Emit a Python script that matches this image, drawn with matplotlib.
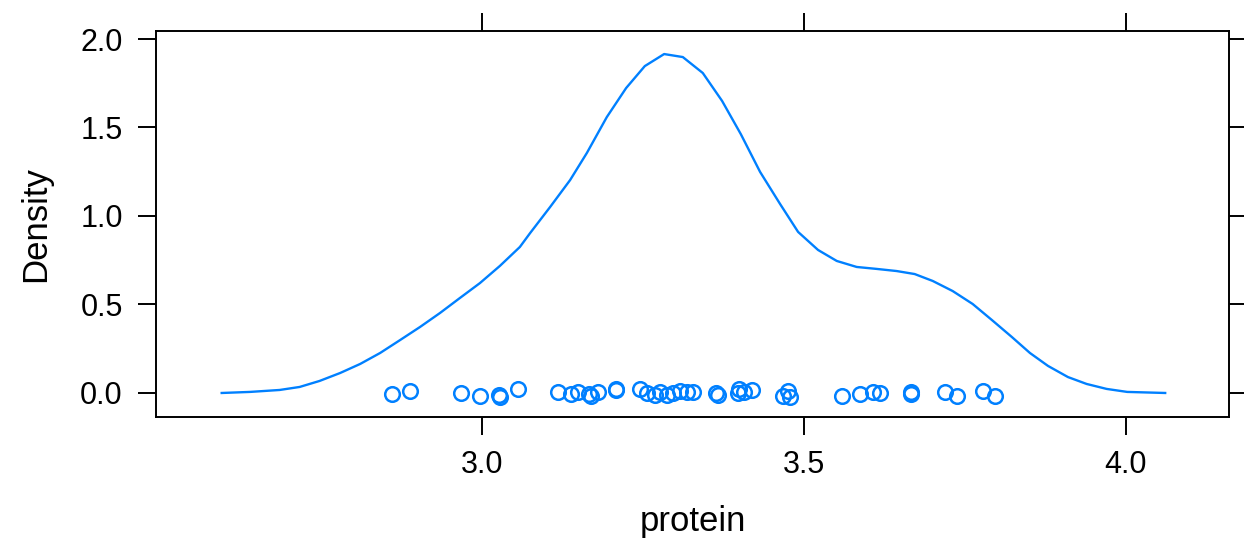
import numpy as np
import matplotlib
matplotlib.use("Agg")
import matplotlib.pyplot as plt

plt.rcParams['font.family'] = ['Liberation Sans', 'DejaVu Sans']

# density curve
dens_x = [2.596, 2.640, 2.686, 2.717, 2.748, 2.780, 2.811, 2.842, 2.873, 2.904,
          2.935, 2.966, 2.997, 3.028, 3.059, 3.075, 3.106, 3.137, 3.163, 3.194,
          3.224, 3.253, 3.283, 3.312, 3.343, 3.373, 3.402, 3.432, 3.463, 3.491,
          3.522, 3.551, 3.582, 3.613, 3.644, 3.672, 3.700, 3.731, 3.762, 3.792,
          3.823, 3.851, 3.879, 3.910, 3.939, 3.970, 4.002, 4.061]
dens_y = [0.000, 0.006, 0.017, 0.034, 0.068, 0.113, 0.164, 0.226, 0.299, 0.373,
          0.452, 0.537, 0.621, 0.718, 0.825, 0.904, 1.051, 1.203, 1.356, 1.559,
          1.723, 1.847, 1.915, 1.898, 1.808, 1.650, 1.463, 1.249, 1.068, 0.910,
          0.808, 0.746, 0.712, 0.701, 0.689, 0.672, 0.633, 0.576, 0.503, 0.412,
          0.316, 0.226, 0.153, 0.090, 0.051, 0.023, 0.006, 0.000]

# protein values (jittered rug at the bottom)
protein = [2.860, 2.888, 2.968, 2.997, 3.027, 3.028, 3.056, 3.118, 3.139, 3.150,
           3.167, 3.170, 3.181, 3.208, 3.208, 3.245, 3.256, 3.269, 3.276, 3.287,
           3.297, 3.307, 3.318, 3.328, 3.364, 3.367, 3.398, 3.400, 3.407, 3.419,
           3.468, 3.476, 3.478, 3.559, 3.587, 3.608, 3.618, 3.667, 3.667, 3.719,
           3.737, 3.778, 3.797]
jitter = [-0.006, 0.011, 0.000, -0.017, -0.010, -0.022, 0.023, 0.008, -0.008, 0.004,
          -0.008, -0.018, 0.004, 0.023, 0.015, 0.023, -0.002, -0.011, 0.008, -0.011,
          -0.002, 0.011, 0.008, 0.004, -0.002, -0.011, -0.002, 0.023, 0.008, 0.017,
          -0.015, 0.011, -0.020, -0.018, -0.008, 0.008, -0.002, 0.004, -0.004, 0.004,
          -0.018, 0.011, -0.018]

xticks = [3.0, 3.5, 4.0]
yticks = [0.0, 0.5, 1.0, 1.5, 2.0]

blue = '#0080FF'

fig = plt.figure(figsize=(12.44, 5.46), dpi=100)
ax = fig.add_axes([0.1254, 0.2363, 0.8625, 0.7075])

ax.plot(dens_x, dens_y, color=blue, lw=1.7)
ax.plot(protein, jitter, 'o', mfc='none', mec=blue, mew=1.8, ms=10.5)

ax.set_xlim(2.494, 4.160)
ax.set_ylim(-0.1356, 2.047)
ax.set_xticks(xticks)
ax.set_xticklabels(['%.1f' % v for v in xticks])
ax.set_yticks(yticks)
ax.set_yticklabels(['%.1f' % v for v in yticks])

ax.tick_params(direction='out', length=13, width=1.4, labelsize=22, pad=11,
               top=True, right=True, labeltop=False, labelright=False)
for s in ax.spines.values():
    s.set_linewidth(1.4)

ax.set_xlabel('protein', fontsize=25, labelpad=18)
ax.set_ylabel('Density', fontsize=25, labelpad=20)

fig.savefig('out.png', dpi=100)
